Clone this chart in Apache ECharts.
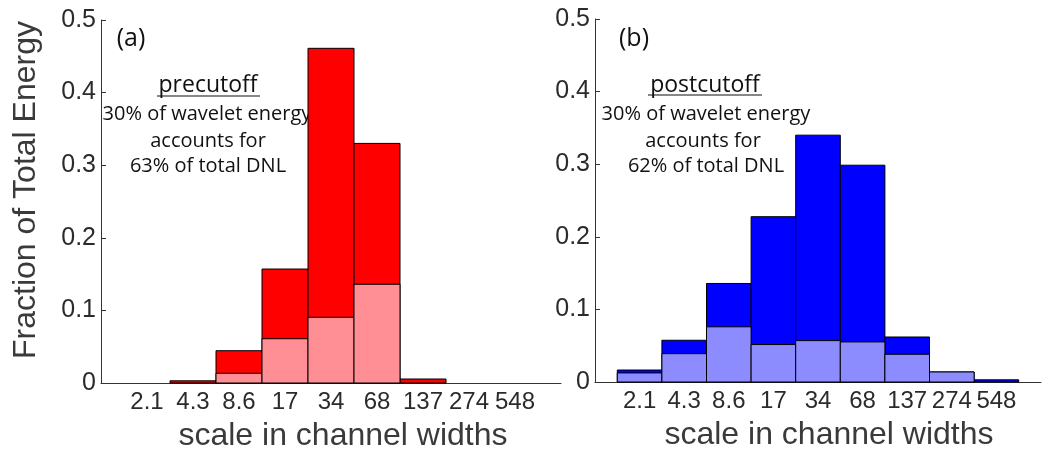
<!DOCTYPE html>
<html>
<head>
<meta charset="utf-8">
<script src="https://cdn.jsdelivr.net/npm/echarts@6/dist/echarts.min.js"></script>
<style>
html,body{margin:0;padding:0;background:#fff;}
#chart{width:1044px;height:453px;}
</style>
</head>
<body>
<div id="chart"></div>
<script>
// scale labels (channel widths)
const categories = ['2.1', '4.3', '8.6', '17', '34', '68', '137', '274', '548'];
// (a) precutoff: total fraction and lower (light) portion
const preTotal = [0, 0.003, 0.0445, 0.157, 0.461, 0.330, 0.0055, 0, 0];
const preLow   = [0, 0, 0.0134, 0.061, 0.0905, 0.136, 0, 0, 0];
// (b) postcutoff
const postTotal = [0.0165, 0.0575, 0.1357, 0.2277, 0.340, 0.2986, 0.062, 0.0138, 0.003];
const postLow   = [0.0125, 0.039, 0.076, 0.0516, 0.057, 0.0552, 0.0382, 0.0138, 0];
const yTicks = [0, 0.1, 0.2, 0.3, 0.4, 0.5];

const FONT = '"Liberation Sans", Arial, Helvetica, sans-serif';
const ANN = '"Open Sans", "Noto Sans", sans-serif';

function toData(arr) { return arr.map((v, i) => [i + 1, v]); }

function barRenderer(color) {
  return function (params, api) {
    const x = api.value(0), v = api.value(1);
    if (!v) return null;
    const p0 = api.coord([x - 0.5, v]);
    const p1 = api.coord([x + 0.5, 0]);
    return {
      type: 'rect',
      shape: { x: p0[0], y: p0[1], width: p1[0] - p0[0], height: p1[1] - p0[1] },
      style: { fill: color, stroke: '#000', lineWidth: 1 }
    };
  };
}

function xAxis(gridIndex) {
  return {
    type: 'value', gridIndex, min: 0, max: 10, interval: 1,
    axisLine: { show: true, lineStyle: { color: '#333', width: 1 } },
    axisTick: { show: false },
    splitLine: { show: false },
    axisLabel: {
      formatter: v => categories[v - 1] || '',
      fontSize: 24, color: '#2b2b2b', fontFamily: FONT, margin: 7
    }
  };
}
function yAxis(gridIndex) {
  return {
    type: 'value', gridIndex, min: yTicks[0], max: yTicks[yTicks.length - 1], interval: 0.1,
    axisLine: { show: true, lineStyle: { color: '#333', width: 1 } },
    axisTick: { show: true, inside: true, length: 5, lineStyle: { color: '#333' } },
    splitLine: { show: false },
    axisLabel: { fontSize: 25, color: '#2b2b2b', fontFamily: FONT, margin: 5 }
  };
}

function txt(text, x, y, size, extra) {
  return Object.assign({
    type: 'text', x: x, y: y,
    style: { text: text, font: size + 'px ' + ANN, fill: '#111', align: 'center', verticalAlign: 'middle' }
  }, extra || {});
}
function line(x1, x2, y) {
  return { type: 'line', shape: { x1: x1, y1: y, x2: x2, y2: y }, style: { stroke: '#111', lineWidth: 1.2 } };
}

const chart = echarts.init(document.getElementById('chart'), null, { renderer: 'canvas' });
chart.setOption({
  animation: false,
  backgroundColor: '#fff',
  grid: [
    { left: 101, top: 20, width: 460, height: 363 },
    { left: 595, top: 19, width: 459, height: 363 }
  ],
  xAxis: [xAxis(0), xAxis(1)],
  yAxis: [yAxis(0), yAxis(1)],
  series: [
    { type: 'custom', xAxisIndex: 0, yAxisIndex: 0, renderItem: barRenderer('#ff0000'), data: toData(preTotal), z: 2 },
    { type: 'custom', xAxisIndex: 0, yAxisIndex: 0, renderItem: barRenderer('#ff8f94'), data: toData(preLow), z: 3 },
    { type: 'custom', xAxisIndex: 1, yAxisIndex: 1, renderItem: barRenderer('#0000ff'), data: toData(postTotal), z: 2 },
    { type: 'custom', xAxisIndex: 1, yAxisIndex: 1, renderItem: barRenderer('#8c8cff'), data: toData(postLow), z: 3 }
  ],
  graphic: [
    // y-axis title
    { type: 'text', x: 26, y: 190, rotation: Math.PI / 2,
      style: { text: 'Fraction of Total Energy', font: '32px ' + FONT, fill: '#3a3a3a', align: 'center', verticalAlign: 'middle' } },
    // x-axis titles
    { type: 'text', x: 343, y: 436,
      style: { text: 'scale in channel widths', font: '32px ' + FONT, fill: '#3a3a3a', align: 'center', verticalAlign: 'middle' } },
    { type: 'text', x: 829, y: 435,
      style: { text: 'scale in channel widths', font: '32px ' + FONT, fill: '#3a3a3a', align: 'center', verticalAlign: 'middle' } },
    // panel (a)
    txt('(a)', 131, 39, 25),
    txt('precutoff', 208, 85, 23),
    line(157, 260, 96),
    txt('30% of wavelet energy', 207, 114, 20),
    txt('accounts for', 208, 141, 20),
    txt('63% of total DNL', 208, 166, 20),
    // panel (b)
    txt('(b)', 634, 39, 25),
    txt('postcutoff', 705, 85, 23),
    line(648, 762, 95),
    txt('30% of wavelet energy', 706, 114, 20),
    txt('accounts for', 703, 141, 20),
    txt('62% of total DNL', 706, 166, 20)
  ]
});
</script>
</body>
</html>
